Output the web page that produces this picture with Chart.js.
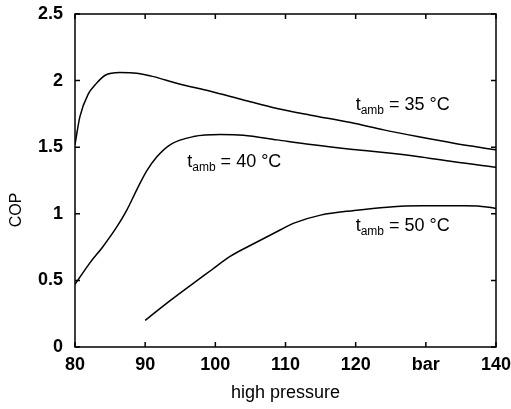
<!DOCTYPE html>
<html>
<head>
<meta charset="utf-8">
<script src="https://cdn.jsdelivr.net/npm/chart.js@4/dist/chart.umd.min.js"></script>
<style>
  html, body { margin: 0; padding: 0; background: #fff; }
  #wrap { width: 511px; height: 409px; }
</style>
</head>
<body>
<div id="wrap"><canvas id="cop-chart"></canvas></div>
<script>
// high pressure (bar) and COP
const p35 = [80, 80.7, 81.9, 82.9, 84.3, 86.4, 88.8, 91.2, 94.5, 99.3, 104, 108.8, 113.6, 119.3, 124, 128.8, 134, 140];
const cop35 = [1.52, 1.73, 1.9, 1.97, 2.04, 2.06, 2.055, 2.03, 1.98, 1.92, 1.855, 1.79, 1.74, 1.685, 1.63, 1.58, 1.53, 1.48];

const p40 = [80, 82.1, 84, 86, 87.4, 88.8, 90.2, 91.7, 93.6, 96.9, 100.7, 104, 108.8, 113.6, 119.3, 124, 128.8, 134, 140];
const cop40 = [0.47, 0.63, 0.755, 0.905, 1.03, 1.18, 1.32, 1.43, 1.52, 1.58, 1.595, 1.59, 1.555, 1.52, 1.485, 1.46, 1.43, 1.39, 1.35];

const p50 = [90, 93.6, 96.9, 99.5, 102.1, 106, 109.3, 111.2, 115, 119.8, 124.5, 129.3, 135.5, 139, 140];
const cop50 = [0.2, 0.35, 0.48, 0.58, 0.68, 0.79, 0.88, 0.93, 0.99, 1.025, 1.05, 1.06, 1.06, 1.05, 1.04];

const xTicks = [80, 90, 100, 110, 120, 130, 140];
const xTickText = ['80', '90', '100', '110', '120', 'bar', '140'];
const yTicks = [0, 0.5, 1, 1.5, 2, 2.5];

const curveTemps = ['35 °C', '40 °C', '50 °C'];
// where each label starts (pressure, COP of the baseline)
const labelSpots = [[120, 1.78], [96, 1.35], [120, 0.87]];

const toPoints = (xs, ys) => xs.map((x, i) => ({ x: x, y: ys[i] }));

const FONT = '"Liberation Sans", Arial, Helvetica, sans-serif';

const noOverflow = s => {
  s.paddingLeft = 0; s.paddingRight = 0; s.paddingTop = 0; s.paddingBottom = 0;
};

const frameAndLabels = {
  id: 'frameAndLabels',
  afterDatasetsDraw(chart) {
    const { ctx, chartArea: a, scales } = chart;
    ctx.save();
    ctx.strokeStyle = '#000';
    ctx.lineWidth = 1.5;
    ctx.strokeRect(a.left, a.top, a.right - a.left, a.bottom - a.top);

    // inward ticks on all four sides
    ctx.beginPath();
    xTicks.forEach(v => {
      const x = scales.x.getPixelForValue(v);
      ctx.moveTo(x, a.bottom); ctx.lineTo(x, a.bottom - 5);
      ctx.moveTo(x, a.top); ctx.lineTo(x, a.top + 5);
    });
    yTicks.forEach(v => {
      const y = scales.y.getPixelForValue(v);
      ctx.moveTo(a.left, y); ctx.lineTo(a.left + 5, y);
      ctx.moveTo(a.right, y); ctx.lineTo(a.right - 5, y);
    });
    ctx.stroke();

    // curve labels: t_amb = .. °C
    ctx.fillStyle = '#000';
    ctx.textBaseline = 'alphabetic';
    ctx.textAlign = 'left';
    curveTemps.forEach((t, i) => {
      let x = scales.x.getPixelForValue(labelSpots[i][0]);
      const y = scales.y.getPixelForValue(labelSpots[i][1]);
      ctx.font = '18px ' + FONT;
      ctx.fillText('t', x, y);
      x += ctx.measureText('t').width;
      ctx.font = '12px ' + FONT;
      ctx.fillText('amb', x, y + 4);
      x += ctx.measureText('amb').width;
      ctx.font = '18px ' + FONT;
      ctx.fillText(' = ' + t, x, y);
    });

    // y axis title
    ctx.font = '16px ' + FONT;
    ctx.textAlign = 'center';
    ctx.textBaseline = 'middle';
    ctx.translate(17, 210);
    ctx.rotate(-Math.PI / 2);
    ctx.fillText('COP', 0, 0);
    ctx.restore();
  }
};

new Chart(document.getElementById('cop-chart'), {
  type: 'line',
  data: {
    datasets: [
      { label: '35', data: toPoints(p35, cop35) },
      { label: '40', data: toPoints(p40, cop40) },
      { label: '50', data: toPoints(p50, cop50) }
    ]
  },
  options: {
    responsive: true,
    maintainAspectRatio: false,
    animation: false,
    layout: { padding: { left: 0, right: 15, top: 14, bottom: 0 } },
    elements: {
      line: { borderColor: '#000', borderWidth: 1.5, cubicInterpolationMode: 'monotone', fill: false },
      point: { radius: 0 }
    },
    plugins: { legend: { display: false }, tooltip: { enabled: false } },
    scales: {
      x: {
        type: 'linear', min: 80, max: 140,
        afterFit: s => { s.height = 62; noOverflow(s); },
        afterBuildTicks: s => { s.ticks = xTicks.map(v => ({ value: v })); },
        grid: { display: false, drawTicks: false },
        border: { display: false },
        ticks: {
          color: '#000', padding: 7,
          font: { family: FONT, size: 18, weight: 'bold' },
          maxRotation: 0, autoSkip: false,
          callback: v => xTickText[xTicks.indexOf(v)]
        },
        title: {
          display: true, text: 'high pressure', color: '#000',
          font: { family: FONT, size: 18 },
          padding: { top: 5, bottom: 5 }
        }
      },
      y: {
        type: 'linear', min: 0, max: 2.5,
        afterFit: s => { s.width = 75; noOverflow(s); },
        afterBuildTicks: s => { s.ticks = yTicks.map(v => ({ value: v })); },
        grid: { display: false, drawTicks: false },
        border: { display: false },
        ticks: {
          color: '#000', padding: 12,
          font: { family: FONT, size: 18, weight: 'bold' },
          callback: v => String(v)
        }
      }
    }
  },
  plugins: [frameAndLabels]
});
</script>
</body>
</html>
